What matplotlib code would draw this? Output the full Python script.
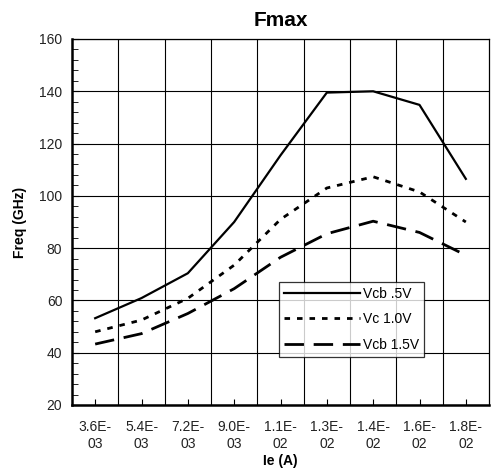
import matplotlib
matplotlib.use('Agg')
from matplotlib import pyplot as plt
from matplotlib.ticker import MultipleLocator

plt.rcParams['font.family'] = ['Liberation Sans', 'DejaVu Sans']

ie_labels = ['3.6E-\n03', '5.4E-\n03', '7.2E-\n03', '9.0E-\n03', '1.1E-\n02',
             '1.3E-\n02', '1.4E-\n02', '1.6E-\n02', '1.8E-\n02']
vcb_05 = [53.2, 60.9, 70.4, 90.0, 115.5, 139.5, 140.0, 134.8, 106.5]
vc_10 = [48.0, 52.5, 60.8, 73.5, 91.0, 103.0, 107.3, 101.5, 90.0]
vcb_15 = [43.3, 47.3, 55.0, 64.5, 76.5, 85.5, 90.3, 86.0, 77.3]

xs = list(range(len(ie_labels)))

fig = plt.figure(figsize=(4.92, 4.70), dpi=100)
ax = fig.add_axes([72 / 492, 1 - 405 / 470, 417 / 492, 366 / 470])

ax.plot(xs, vcb_05, color='black', lw=1.6, linestyle='solid', label='Vcb .5V')
ax.plot(xs, vc_10, color='black', lw=2.0, linestyle=(0, (2, 2.5)), label='Vc 1.0V')
ax.plot(xs, vcb_15, color='black', lw=2.0, linestyle=(0, (7, 3.5)), label='Vcb 1.5V')

ax.set_xlim(-0.5, len(ie_labels) - 0.5)
ax.set_ylim(20, 160)

# grid on category boundaries
for b in range(1, len(ie_labels)):
    ax.axvline(b - 0.5, color='black', lw=0.8, zorder=0)
ax.yaxis.set_major_locator(MultipleLocator(20))
ax.yaxis.set_minor_locator(MultipleLocator(4))
ax.grid(axis='y', which='major', color='black', lw=0.8, zorder=0)

ax.set_xticks(xs)
ax.set_xticklabels(ie_labels, fontsize=10, linespacing=1.25, color='#222222')
ax.tick_params(axis='x', direction='in', length=4, pad=11)
ax.tick_params(axis='y', which='both', direction='in', labelsize=10,
               labelcolor='#222222', pad=7)
ax.tick_params(axis='y', which='major', length=5)
ax.tick_params(axis='y', which='minor', length=4)

for s in ['left', 'bottom']:
    ax.spines[s].set_linewidth(1.8)
for s in ['top', 'right']:
    ax.spines[s].set_linewidth(0.9)

ax.set_title('Fmax', fontsize=15, fontweight='bold', pad=9)
ax.set_xlabel('Ie (A)', fontsize=10, fontweight='bold', labelpad=2)
ax.set_ylabel('Freq (GHz)', fontsize=10, fontweight='bold', labelpad=9)

leg = ax.legend(loc='lower left', bbox_to_anchor=((279 - 72) / 417, (405 - 357) / 366),
                fontsize=10, frameon=True, fancybox=False, edgecolor='black',
                handlelength=5.5, handletextpad=0.2, borderpad=0.35,
                labelspacing=0.85, borderaxespad=0)
leg.get_frame().set_linewidth(0.9)

fig.savefig('out.png', dpi=100)
